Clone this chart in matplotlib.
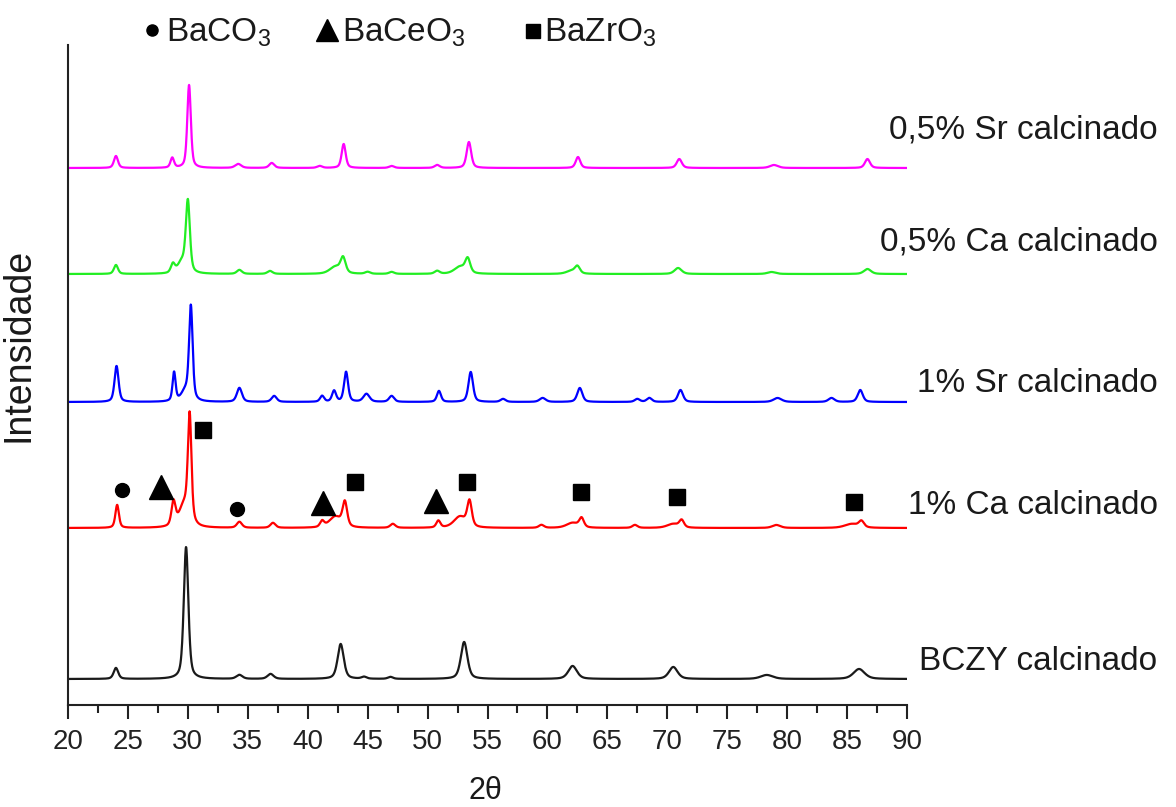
#!/usr/bin/env python3
"""
XRD patterns of calcined BCZY powders (pure and doped with Ca / Sr),
stacked with vertical offsets and phase markers on the 1% Ca curve.
"""

import matplotlib.pyplot as plt
import numpy as np
from matplotlib.ticker import MultipleLocator


plt.rcParams['font.family'] = ['Liberation Sans', 'DejaVu Sans']
plt.rcParams['mathtext.fontset'] = 'custom'
plt.rcParams['mathtext.rm'] = 'Liberation Sans'
plt.rcParams['mathtext.default'] = 'regular'

# Sample names (bottom to top), offsets and colours
sample_labels = ['BCZY calcinado', '1% Ca calcinado', '1% Sr calcinado',
                 '0,5% Ca calcinado', '0,5% Sr calcinado']
sample_offsets = [26, 177, 303, 431, 537]
sample_colors = ['#1a1a1a', '#ff0000', '#0000ff', '#22ee22', '#ff00ff']
label_y = [43, 200, 322, 463, 575]

# Peaks: position (2theta), height, FWHM
bczy_pos = [24.0, 29.85, 34.3, 36.9, 42.75, 44.7, 46.9, 53.05, 62.1, 70.5, 78.3, 86.0]
bczy_height = [11, 132, 4, 5, 35, 2, 2, 37, 13, 12, 4, 10]
bczy_fwhm = [0.45, 0.45, 0.6, 0.6, 0.6, 0.5, 0.5, 0.65, 0.85, 0.85, 1.2, 1.1]

ca1_pos = [24.1, 28.8, 29.7, 30.15, 34.3, 37.1, 41.2, 42.3, 43.1, 47.1, 50.9,
           52.7, 53.5, 59.5, 62.1, 62.85, 67.3, 70.5, 71.2, 79.1, 85.4, 86.2]
ca1_height = [23, 24, 22, 104, 6, 5, 6, 11, 24, 4, 7, 11, 25, 3, 5, 9, 3, 4, 7, 3, 4, 6]
ca1_fwhm = [0.35, 0.4, 1.0, 0.35, 0.5, 0.5, 0.4, 1.2, 0.45, 0.5, 0.4,
            1.2, 0.45, 0.5, 1.2, 0.45, 0.5, 1.2, 0.45, 0.8, 1.4, 0.5]

sr1_pos = [24.05, 28.85, 29.8, 30.25, 34.3, 37.2, 41.2, 42.2, 43.2, 44.9, 47.0,
           50.95, 53.6, 56.3, 59.6, 62.7, 67.5, 68.5, 71.1, 79.2, 83.7, 86.1]
sr1_height = [36, 29, 10, 93, 14, 6, 6, 11, 30, 8, 6, 11, 30, 3, 4, 14, 3, 4, 12, 4, 4, 12]
sr1_fwhm = [0.4, 0.3, 0.8, 0.35, 0.5, 0.5, 0.4, 0.4, 0.4, 0.6, 0.5,
            0.4, 0.45, 0.5, 0.6, 0.5, 0.5, 0.5, 0.5, 0.8, 0.6, 0.5]

ca05_pos = [24.0, 28.75, 29.5, 30.0, 34.3, 36.85, 42.3, 42.95, 45.0, 47.0,
            50.8, 52.7, 53.35, 62.0, 62.5, 70.9, 78.7, 86.7]
ca05_height = [9, 9, 11, 71, 4, 3, 7, 15, 2, 2, 3, 7, 14, 3, 7, 6, 2, 5]
ca05_fwhm = [0.4, 0.4, 0.8, 0.4, 0.5, 0.5, 1.1, 0.5, 0.5, 0.5,
             0.5, 1.1, 0.5, 1.0, 0.5, 0.7, 0.8, 0.7]

sr05_pos = [24.0, 28.7, 30.1, 34.2, 37.0, 41.0, 43.0, 47.0, 50.8, 53.45,
            62.55, 71.0, 78.9, 86.7]
sr05_height = [12, 10, 83, 4, 5, 2, 24, 2, 3, 26, 11, 9, 3, 9]
sr05_fwhm = [0.4, 0.35, 0.35, 0.6, 0.5, 0.5, 0.4, 0.5, 0.5, 0.45,
             0.45, 0.5, 0.8, 0.5]

# Phase markers placed over the 1% Ca pattern
baco3_x = [24.5, 34.1]
baco3_y = [215, 196]
baceo3_x = [27.8, 41.3, 50.7]
baceo3_y = [218, 202, 204]
bazro3_x = [31.25, 43.95, 53.3, 62.8, 70.8, 85.6]
bazro3_y = [275, 223, 223, 213, 208, 203]

x_ticks = list(range(20, 95, 5))


def pattern(two_theta, pos, height, fwhm):
    """Sum of pseudo-Voigt peaks built from the listed peak parameters."""
    y = np.zeros_like(two_theta)
    for p, h, w in zip(pos, height, fwhm):
        d = (two_theta - p) / (w / 2)
        lor = 1 / (1 + d ** 2)
        gau = np.exp(-np.log(2) * d ** 2)
        y += h * (0.5 * lor + 0.5 * gau)
    return y


def main():
    fig = plt.figure(figsize=(11.76, 8.07), dpi=100)
    ax = fig.add_axes([68 / 1176, 1 - 705 / 807, 839 / 1176, 660 / 807])

    two_theta = np.linspace(20, 90, 3500)
    peak_sets = [
        (bczy_pos, bczy_height, bczy_fwhm),
        (ca1_pos, ca1_height, ca1_fwhm),
        (sr1_pos, sr1_height, sr1_fwhm),
        (ca05_pos, ca05_height, ca05_fwhm),
        (sr05_pos, sr05_height, sr05_fwhm),
    ]

    for (pos, height, fwhm), off, color, label, ly in zip(
            peak_sets, sample_offsets, sample_colors, sample_labels, label_y):
        ax.plot(two_theta, off + pattern(two_theta, pos, height, fwhm),
                color=color, lw=1.6)
        ax.text(110.9, ly, label, ha='right', va='center', fontsize=24,
                color='#1a1a1a', clip_on=False)

    # Phase markers
    ax.plot(baco3_x, baco3_y, 'o', color='black', ms=10, clip_on=False)
    ax.plot(baceo3_x, baceo3_y, '^', color='black', ms=17, clip_on=False)
    ax.plot(bazro3_x, bazro3_y, 's', color='black', ms=11.5, clip_on=False)

    # Legend row across the top
    tf = fig.transFigure
    ax.plot([152 / 1176], [1 - 30 / 807], 'o', color='black', ms=8,
            transform=tf, clip_on=False)
    ax.plot([327 / 1176], [1 - 30 / 807], '^', color='black', ms=16,
            transform=tf, clip_on=False)
    ax.plot([533 / 1176], [1 - 31 / 807], 's', color='black', ms=10,
            transform=tf, clip_on=False)
    for x0, txt in [(166, 'BaCO$_3$'), (342, 'BaCeO$_3$'), (544, 'BaZrO$_3$')]:
        fig.text(x0 / 1176, 1 - 42 / 807, txt, ha='left', va='baseline',
                 fontsize=24, color='#1a1a1a')

    # Axes styling
    ax.set_xlim(20, 90)
    ax.set_ylim(0, 660)
    ax.set_xticks(x_ticks)
    ax.xaxis.set_minor_locator(MultipleLocator(2.5))
    ax.set_yticks([])
    for side in ('top', 'right'):
        ax.spines[side].set_visible(False)
    for side in ('left', 'bottom'):
        ax.spines[side].set_linewidth(1.5)
        ax.spines[side].set_color('#222222')
    ax.tick_params(axis='x', which='major', length=10, width=1.5,
                   labelsize=20, pad=7, colors='#222222')
    ax.tick_params(axis='x', which='minor', length=6, width=1.5,
                   colors='#222222')

    ax.set_xlabel('2θ', fontsize=22, color='#1a1a1a')
    ax.set_ylabel('Intensidade', fontsize=27, color='#1a1a1a')
    ax.xaxis.set_label_coords(0.497, -0.108)
    ax.yaxis.set_label_coords(-0.037, 0.545)

    fig.savefig('out.png', dpi=100)
    plt.close(fig)


if __name__ == '__main__':
    main()
